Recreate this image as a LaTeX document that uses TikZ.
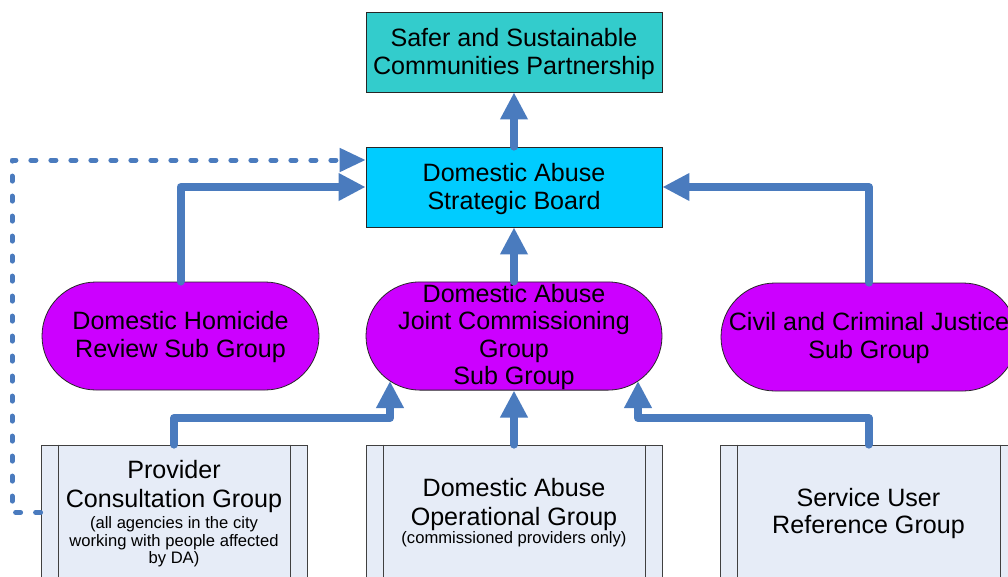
\documentclass[tikz,border=0pt]{standalone}
\usepackage{fontspec}
\setmainfont{Liberation Sans}
\usetikzlibrary{arrows.meta,calc}
\definecolor{tealbox}{HTML}{33CCCC}
\definecolor{cyanbox}{HTML}{00CCFF}
\definecolor{purpbox}{HTML}{CC00FF}
\definecolor{palebox}{HTML}{E6ECF7}
\definecolor{arrowblue}{HTML}{4A7BBE}
\newcommand{\smtext}{\fontsize{16.6}{18.3}\selectfont}
\newcommand{\lift}[1]{\rule{0pt}{#1}}
\begin{document}
\begin{tikzpicture}[x=1pt,y=-1pt,
  bigfont/.style={font=\fontsize{25.1}{27.5}\selectfont},
  topbox/.style={bigfont, draw=black!85, line width=0.8pt, minimum width=296pt, minimum height=80pt, inner sep=0pt, align=center},
  pill/.style={bigfont, draw=black!85, line width=0.8pt, fill=purpbox, rounded corners=54pt, minimum height=108pt, inner sep=0pt, align=center},
  procbox/.style={bigfont, draw=black!75, line width=0.8pt, fill=palebox, minimum height=135pt, inner sep=0pt, align=center},
  boxline/.style={draw=black!75, line width=0.8pt},
  conn/.style={draw=arrowblue, line width=8pt, line cap=round, line join=round, -{Triangle[length=27pt,width=26pt]}},
  dconn/.style={draw=arrowblue, line width=5pt, line cap=round, line join=round, dash pattern=on 5pt off 15pt, -{Triangle[length=26pt,width=23pt]}}
]
\useasboundingbox (0,0) rectangle (1008,576);
\clip (0,0) rectangle (1008,576);

% top boxes
\node[topbox, fill=tealbox] (sscp) at (514,52) {\lift{22.5pt}Safer and Sustainable\\Communities Partnership};
\node[topbox, fill=cyanbox] (dasb) at (514,187) {\lift{22.5pt}Domestic Abuse\\Strategic Board};

% sub groups
\node[pill, minimum width=277pt] (dhr) at (180.5,336) {\lift{20.5pt}Domestic Homicide\\Review Sub Group};
\node[pill, minimum width=296pt] (jc) at (514,336) {\lift{20.5pt}Domestic Abuse\\Joint Commissioning\\Group\\Sub Group};
\node[pill, minimum width=296pt] (ccj) at (869,337) {\lift{20.5pt}Civil and Criminal Justice\\Sub Group};

% bottom groups
\node[procbox, minimum width=266pt] (prov) at (174,512.5) {\lift{20.5pt}Provider\\[1.5pt]Consultation Group\\[-6.5pt]\smtext (all agencies in the city\\[-10pt]\smtext working with people affected\\[-10pt]\smtext by DA)};
\node[procbox, minimum width=296pt] (opg) at (514,512.5) {\lift{18.5pt}Domestic Abuse\\[1.5pt]Operational Group\\[-9.5pt]\smtext (commissioned providers only)};
\node[procbox, minimum width=297pt] (sur) at (868.5,512.5) {\lift{20.5pt}Service User\\Reference Group};

\foreach \n in {prov,opg,sur} {
  \draw[boxline] ([xshift=17.5pt]\n.north west) -- ([xshift=17.5pt]\n.south west);
  \draw[boxline] ([xshift=-17.5pt]\n.north east) -- ([xshift=-17.5pt]\n.south east);
}

% helper coordinates
\coordinate (elbowL) at (390,418);
\coordinate (jcL) at (390,381);
\coordinate (elbowR) at (638,418);
\coordinate (jcR) at (638,381);
\coordinate (dcorner) at (12,160);
\coordinate (dtop) at ($(dasb.west)+(0,-27)$);

% connectors
\draw[conn] (dasb.north) -- (sscp.south);
\draw[conn] (jc.north) -- (dasb.south);
\draw[conn] (dhr.north) |- (dasb.west);
\draw[conn] (ccj.north) |- (dasb.east);
\draw[conn] (opg.north) -- (jc.south);
\draw[conn] (prov.north) |- (elbowL) -- (jcL);
\draw[conn] (sur.north) |- (elbowR) -- (jcR);
\draw[dconn] (prov.west) -| (dcorner) -- (dtop);
\end{tikzpicture}
\end{document}
